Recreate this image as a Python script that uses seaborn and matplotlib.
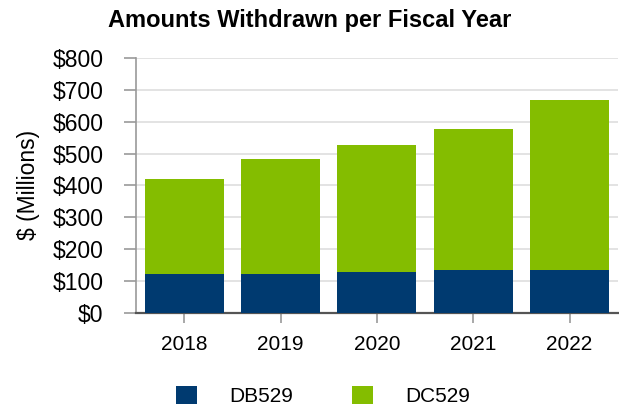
import matplotlib
matplotlib.use("Agg")
import matplotlib.pyplot as plt
import pandas as pd
import seaborn as sns

years = ["2018", "2019", "2020", "2021", "2022"]
db529 = [122, 122, 129, 135, 135]
totals = [420, 483, 527, 578, 667]
dc529 = [t - d for t, d in zip(totals, db529)]

NAVY = "#003A70"
GREEN = "#84BD00"

sns.set_style("white")
plt.rcParams["font.family"] = ["Liberation Sans", "DejaVu Sans"]
plt.rcParams["text.color"] = "black"
plt.rcParams["axes.labelcolor"] = "black"
plt.rcParams["xtick.labelcolor"] = "black"
plt.rcParams["ytick.labelcolor"] = "black"

df = pd.DataFrame({"year": years, "DB529": db529, "DC529": dc529})
df["total"] = df["DB529"] + df["DC529"]

fig = plt.figure(figsize=(6.19, 4.13), dpi=100)
ax = fig.add_axes([0.22, 0.242, 0.778, 0.618])

sns.barplot(data=df, x="year", y="total", color=GREEN, width=0.82,
            saturation=1, ax=ax, label="DC529", zorder=2, linewidth=0)
sns.barplot(data=df, x="year", y="DB529", color=NAVY, width=0.82,
            saturation=1, ax=ax, label="DB529", zorder=3, linewidth=0)

ax.set_ylim(0, 800)
ax.set_xlim(-0.5, 4.5)
ax.set_yticks(range(0, 801, 100))
ax.set_yticklabels([f"${v}" for v in range(0, 801, 100)])
ax.yaxis.grid(True, color="#e3e3e3", linewidth=1.4, zorder=0)
ax.set_axisbelow(True)
ax.set_xlabel("")
ax.set_ylabel("$ (Millions)", fontsize=16.5, labelpad=9)
ax.tick_params(axis="y", labelsize=16.5, length=8.5, width=1.2,
               color="#999999", pad=15, left=True)
ax.tick_params(axis="x", labelsize=15, length=7.5, width=1.2,
               color="#999999", pad=8, bottom=True)
for s in ["top", "right"]:
    ax.spines[s].set_visible(False)
ax.spines["left"].set_color("#999999")
ax.spines["left"].set_linewidth(1.2)
ax.spines["bottom"].set_color("#555555")
ax.spines["bottom"].set_linewidth(1.6)

fig.text(0.5, 0.951, "Amounts Withdrawn per Fiscal Year", fontsize=17,
         fontweight="bold", ha="center", va="center")

handles, labels = ax.get_legend_handles_labels()
ax.get_legend().remove()
order = [labels.index("DB529"), labels.index("DC529")]
fig.legend([handles[i] for i in order], [labels[i] for i in order],
           loc="center", bbox_to_anchor=(0.522, 0.041), ncol=2,
           frameon=False, fontsize=15, handlelength=1.0, handleheight=1.0,
           handletextpad=1.55, columnspacing=2.85)

fig.savefig("out.png", dpi=100)
